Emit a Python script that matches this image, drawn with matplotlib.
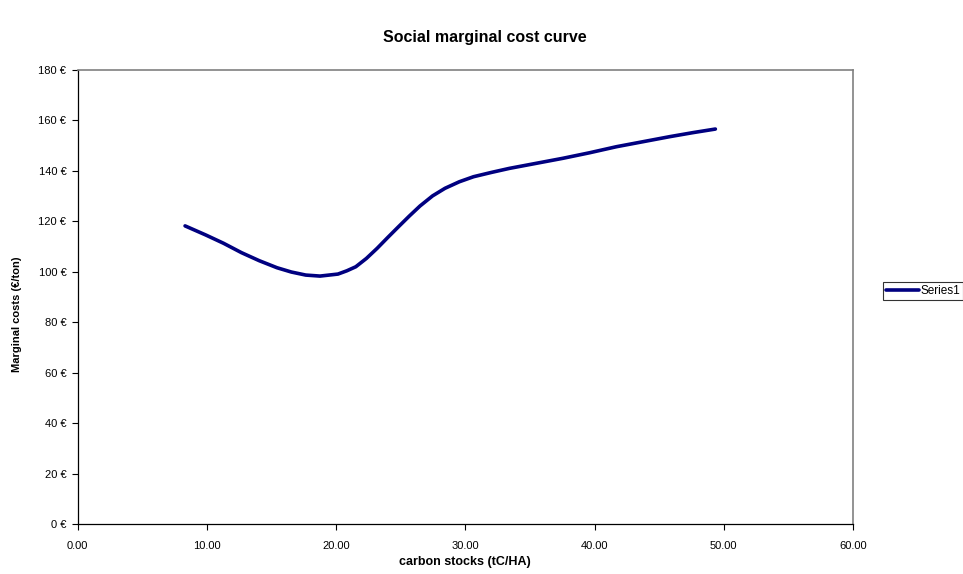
import matplotlib.pyplot as plt
from matplotlib.ticker import FuncFormatter, MultipleLocator

plt.rcParams['font.family'] = ['Liberation Sans', 'DejaVu Sans']

# values
carbon = [8.32, 9.92, 11.30, 12.68, 14.06, 15.44, 16.55, 17.66, 18.76, 20.15,
          20.84, 21.53, 22.35, 23.18, 24.02, 24.84, 25.67, 26.50, 27.47, 28.43,
          29.54, 30.64, 32.02, 33.41, 35.48, 37.55, 39.62, 41.70, 43.77, 45.84,
          47.64, 49.35]
cost = [118.2, 114.6, 111.3, 107.6, 104.4, 101.6, 99.9, 98.7, 98.3, 99.1,
        100.4, 102.0, 105.3, 109.3, 113.7, 117.9, 122.1, 126.1, 130.1, 133.1,
        135.7, 137.7, 139.4, 141.0, 143.0, 145.0, 147.2, 149.6, 151.6, 153.6,
        155.2, 156.6]

fig = plt.figure(figsize=(9.63, 5.74), dpi=100)
ax = fig.add_axes([0.0805, 0.0871, 0.8053, 0.7909])

ax.plot(carbon, cost, color='#000080', linewidth=2.6, label='Series1',
        solid_capstyle='round', solid_joinstyle='round')

ax.set_xlim(0, 60)
ax.set_ylim(0, 180)
ax.xaxis.set_major_locator(MultipleLocator(10))
ax.yaxis.set_major_locator(MultipleLocator(20))
ax.xaxis.set_major_formatter(FuncFormatter(lambda v, p: '%.2f' % v))
ax.yaxis.set_major_formatter(FuncFormatter(lambda v, p: '%d \u20ac' % v))
ax.tick_params(direction='out', length=4, width=0.8, labelsize=8)
ax.tick_params(axis='x', pad=8)
ax.tick_params(axis='y', pad=4)

for s in ['top', 'right']:
    ax.spines[s].set_color('#808080')
    ax.spines[s].set_linewidth(1.2)
for s in ['left', 'bottom']:
    ax.spines[s].set_color('black')
    ax.spines[s].set_linewidth(0.9)

ax.set_xlabel('carbon stocks (tC/HA)', fontsize=9, fontweight='bold')
ax.xaxis.set_label_coords(0.5, -0.071)
ax.set_ylabel('Marginal costs (\u20ac/ton)', fontsize=8, fontweight='bold', va='center')
ax.yaxis.set_label_coords(-0.078, 0.462)
fig.text(0.503, 0.935, 'Social marginal cost curve', ha='center', va='center',
         fontsize=11.5, fontweight='bold')

leg = fig.legend(loc='center left', bbox_to_anchor=(0.917, 0.493), fontsize=8.5,
                 frameon=True, fancybox=False, handlelength=2.8, handletextpad=0.1,
                 borderpad=0.25, borderaxespad=0)
leg.get_frame().set_edgecolor('black')
leg.get_frame().set_linewidth(0.8)

fig.savefig('out.png', dpi=100)
